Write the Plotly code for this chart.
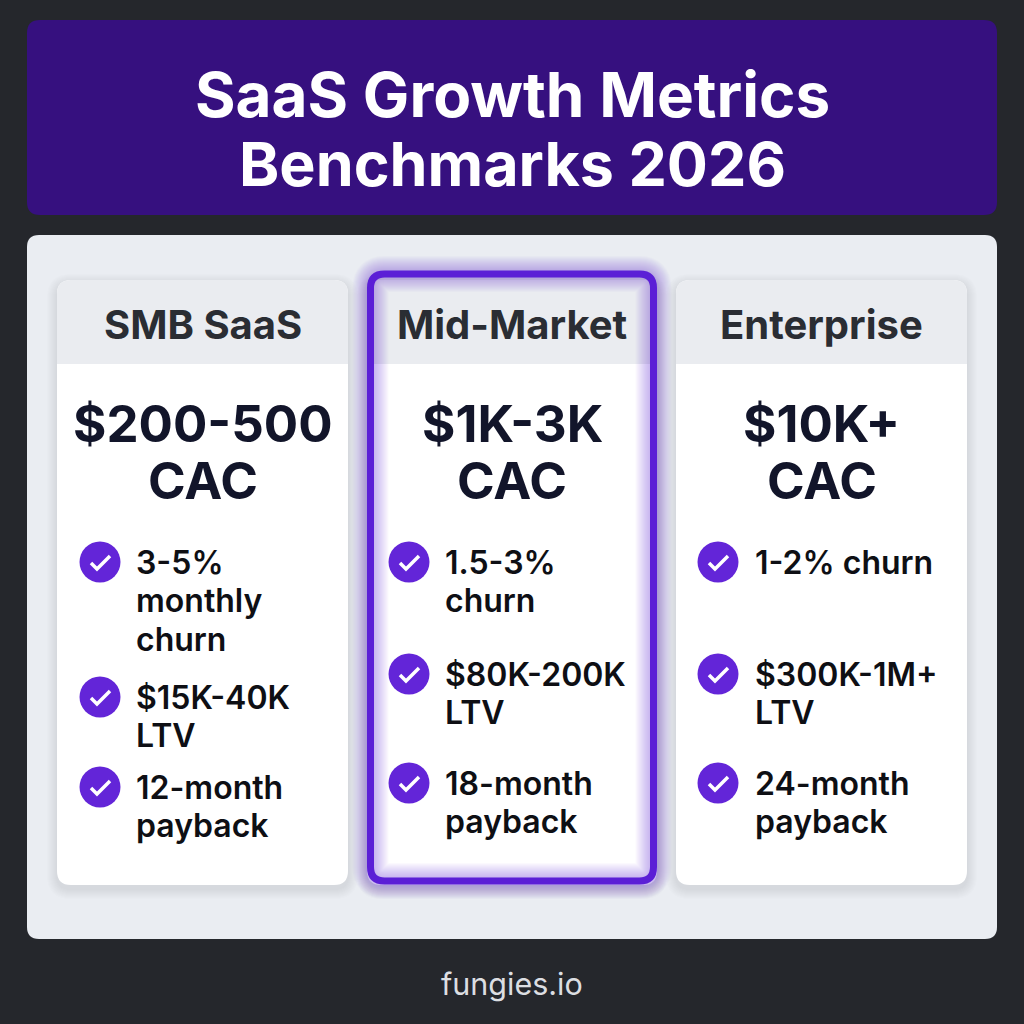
import plotly.graph_objects as go

title_lines = ["SaaS Growth Metrics", "Benchmarks 2026"]
tiers = ["SMB SaaS", "Mid-Market", "Enterprise"]
cac_values = ["$200-500", "$1K-3K", "$10K+"]
cac_label = "CAC"
churn = [["3-5%", "monthly", "churn"], ["1.5-3%", "churn"], ["1-2% churn"]]
ltv = [["$15K-40K", "LTV"], ["$80K-200K", "LTV"], ["$300K-1M+", "LTV"]]
payback = [["12-month", "payback"], ["18-month", "payback"], ["24-month", "payback"]]
footer = "fungies.io"

# layout of the cards, in page pixels
card_left = [57, 367, 676]
card_right = [348, 657, 967]
card_top, card_bottom, header_bottom = 280, 885, 364
check_x = [100, 409, 718]
text_x = [133.5, 443, 752.5]
row_y = [[562, 697, 787], [562, 674, 783], [562, 674, 783]]
LINE_GAP = 38.5

BG = "#25272c"
BANNER = "#36107f"
PANEL = "#eaedf2"
HEADER = "#eaecf0"
PURPLE = "#5b1fd6"
CHECK = "#6325d8"
FONT = "Inter"


def rounded(x0, y0, x1, y1, r, top=True, bottom=True):
    tr = f"Q {x1},{y0} {x1},{y0 + r}" if top else f"L {x1},{y0}"
    br = f"L {x1},{y1 - r} Q {x1},{y1} {x1 - r},{y1}" if bottom else f"L {x1},{y1}"
    bl = f"L {x0 + r},{y1} Q {x0},{y1} {x0},{y1 - r}" if bottom else f"L {x0},{y1}"
    tl = f"L {x0},{y0 + r} Q {x0},{y0} {x0 + r},{y0}" if top else f"L {x0},{y0}"
    start = f"M {x0 + r},{y0}" if top else f"M {x0},{y0}"
    return f"{start} L {x1 - r if top else x1},{y0} {tr} {br} {bl} {tl} Z"


def box(fig, path, fill, opacity=1):
    fig.add_shape(type="path", path=path, fillcolor=fill, opacity=opacity, line_width=0, layer="below")


def outline(fig, path, color, width, opacity=1):
    fig.add_shape(type="path", path=path, line=dict(color=color, width=width), opacity=opacity, layer="below")


def label(fig, x, y, text, size, color, weight=600, anchor="center"):
    fig.add_annotation(
        x=x, y=y, text=text, showarrow=False, xanchor=anchor, yanchor="middle",
        font=dict(family=FONT, size=size, color=color, weight=weight),
    )


fig = go.Figure()

box(fig, rounded(27, 20, 997, 215, 13), BANNER)
box(fig, rounded(27, 235, 997, 939, 12), PANEL)

for i, tier in enumerate(tiers):
    x0, x1 = card_left[i], card_right[i]
    # soft shadow under the card
    for grow in range(1, 11):
        box(fig, rounded(x0 - grow, card_top - grow + 4, x1 + grow, card_bottom + grow + 4, 14 + grow), "#70747f", 0.012)
    box(fig, rounded(x0, card_top, x1, card_bottom, 14), "#ffffff")
    box(fig, rounded(x0, card_top, x1, header_bottom, 14, bottom=False), HEADER)

    cx = (x0 + x1) / 2
    label(fig, cx, 324, tier, 40, "#2a2d33", 700)
    label(fig, cx, 423, cac_values[i], 51, "#12152a", 700)
    label(fig, cx, 480, cac_label, 51, "#12152a", 700)

    for lines, y in zip([churn[i], ltv[i], payback[i]], row_y[i]):
        for n, line in enumerate(lines):
            label(fig, text_x[i], y + n * LINE_GAP, line, 32, "#0e0f14", 600, "left")
        fig.add_shape(
            type="path",
            path=f"M {check_x[i] - 9},{y + 1} L {check_x[i] - 3},{y + 7} L {check_x[i] + 10},{y - 6}",
            line=dict(color="#ffffff", width=3.5),
            layer="above",
        )

# glow and border of the highlighted card
mid = rounded(370.5, 274, 653.5, 881, 14)
for width in range(8, 38, 2):
    outline(fig, mid, PURPLE, width, 0.018)
outline(fig, mid, PURPLE, 7)

fig.add_trace(
    go.Scatter(
        x=[check_x[i] for i in range(3) for _ in row_y[i]],
        y=[y for i in range(3) for y in row_y[i]],
        mode="markers",
        marker=dict(size=41, color=CHECK, line_width=0),
        hoverinfo="skip",
    )
)

label(fig, 512, 94, title_lines[0], 62, "#ffffff", 700)
label(fig, 512, 164, title_lines[1], 61, "#ffffff", 700)
label(fig, 512, 983, footer, 30.5, "#dcdee2", 400)

fig.update_layout(
    width=1024,
    height=1024,
    margin=dict(l=0, r=0, t=0, b=0),
    paper_bgcolor=BG,
    plot_bgcolor=BG,
    showlegend=False,
    xaxis=dict(range=[0, 1024], visible=False, fixedrange=True),
    yaxis=dict(range=[1024, 0], visible=False, fixedrange=True),
)

fig.write_html(
    "out.html",
    config={"displayModeBar": False},
    post_script="document.body.style.margin='0';document.body.style.overflow='hidden';",
)
